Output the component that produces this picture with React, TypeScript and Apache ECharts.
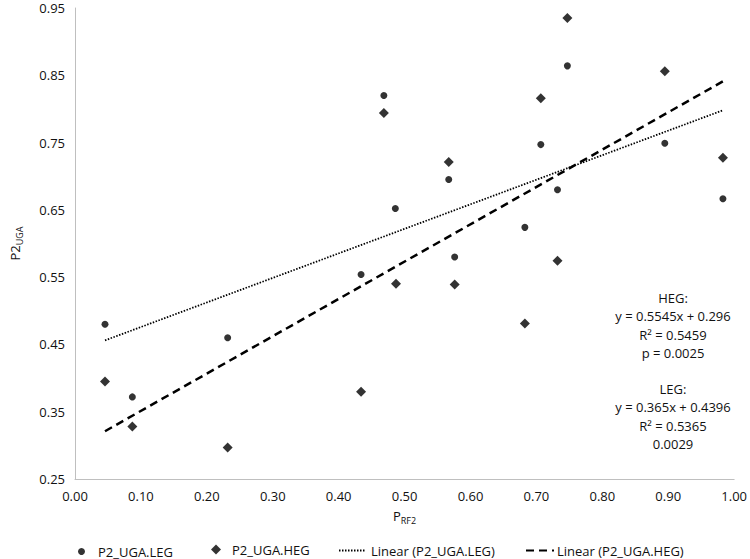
import React, { useEffect, useRef } from "react";
import * as echarts from "echarts";

const legX = [0.0455, 0.087, 0.2316, 0.434, 0.4686, 0.486, 0.567, 0.576, 0.6825, 0.7067, 0.732, 0.747, 0.8948, 0.983];
const legY = [0.480, 0.372, 0.460, 0.554, 0.820, 0.652, 0.695, 0.580, 0.624, 0.747, 0.680, 0.864, 0.749, 0.6665];
const hegX = [0.0455, 0.087, 0.2316, 0.434, 0.4686, 0.487, 0.567, 0.576, 0.6825, 0.7067, 0.732, 0.747, 0.8948, 0.983];
const hegY = [0.395, 0.328, 0.297, 0.3795, 0.794, 0.540, 0.721, 0.539, 0.481, 0.816, 0.5745, 0.935, 0.856, 0.7275];

const trendX = [0.0455, 0.983];
const legTrendY = [0.456, 0.798];
const hegTrendY = [0.321, 0.841];

const seriesNames = ["P2_UGA.LEG", "P2_UGA.HEG", "Linear (P2_UGA.LEG)", "Linear (P2_UGA.HEG)"];
const annotationLines = [
  "HEG:",
  "y = 0.5545x + 0.296",
  "R² = 0.5459",
  "p = 0.0025",
  "",
  "LEG:",
  "y = 0.365x + 0.4396",
  "R² = 0.5365",
  "0.0029",
];

const FONT = "'Open Sans', 'Noto Sans', sans-serif";
const TXT = "#111111";

export default function App() {
  const ref = useRef<HTMLDivElement>(null);
  useEffect(() => {
    if (!ref.current) return;
    const chart = echarts.init(ref.current, null, { renderer: "svg" });
    const zip = (xs: number[], ys: number[]) => xs.map((x, i) => [x, ys[i]]);
    const legendBase = {
      orient: "horizontal",
      top: 544,
      padding: 0,
      itemHeight: 7,
      itemWidth: 7,
      textStyle: { color: TXT, fontSize: 13, fontFamily: FONT },
    };
    const hidden = { color: "rgba(0,0,0,0)", borderColor: "rgba(0,0,0,0)", borderWidth: 0 };
    chart.setOption({
      animation: false,
      backgroundColor: "#ffffff",
      textStyle: { fontFamily: FONT },
      grid: { left: 62, right: 13, top: 8, bottom: 80 },
      xAxis: {
        type: "value",
        min: 0,
        max: 1,
        interval: 0.1,
        name: "{a|P}{b|RF2}",
        nameLocation: "middle",
        nameGap: 30,
        nameTextStyle: {
          rich: {
            a: { fontSize: 13, color: TXT, fontFamily: FONT, verticalAlign: "bottom" },
            b: { fontSize: 9, color: TXT, fontFamily: FONT, verticalAlign: "bottom", padding: [0, 0, -3, 0] },
          },
        },
        axisLine: { show: true, lineStyle: { color: "#bfbfbf", width: 1 } },
        axisTick: { show: false },
        splitLine: { show: false },
        axisLabel: {
          color: TXT,
          fontSize: 13,
          fontFamily: FONT,
          margin: 10,
          formatter: (v: number) => v.toFixed(2),
        },
      },
      yAxis: {
        type: "value",
        min: 0.25,
        max: 0.95,
        interval: 0.1,
        name: "{a|P2}{b|UGA}",
        nameLocation: "middle",
        nameRotate: 90,
        nameGap: 54,
        nameTextStyle: {
          rich: {
            a: { fontSize: 13, color: TXT, fontFamily: FONT, verticalAlign: "bottom" },
            b: { fontSize: 9, color: TXT, fontFamily: FONT, verticalAlign: "bottom", padding: [0, 0, -3, 0] },
          },
        },
        axisLine: { show: true, lineStyle: { color: "#bfbfbf", width: 1 } },
        axisTick: { show: false },
        splitLine: { show: false },
        axisLabel: {
          color: TXT,
          fontSize: 13,
          fontFamily: FONT,
          margin: 10,
          formatter: (v: number) => v.toFixed(2),
        },
      },
      legend: [
        { ...legendBase, left: 78, top: 545, data: [{ name: seriesNames[0], icon: "circle" }], textStyle: { ...legendBase.textStyle, padding: [0, 0, 0, 8] } },
        { ...legendBase, left: 211, itemWidth: 10, itemHeight: 10, top: 543, data: [{ name: seriesNames[1], icon: "diamond" }], textStyle: { ...legendBase.textStyle, padding: [0, 0, 0, 6] } },
        { ...legendBase, left: 338, itemWidth: 27, itemHeight: 8, data: [{ name: seriesNames[2], itemStyle: hidden }] },
        { ...legendBase, left: 525, itemWidth: 28, itemHeight: 8, data: [{ name: seriesNames[3], itemStyle: hidden }], textStyle: { ...legendBase.textStyle, padding: [0, 0, 0, -2] } },
      ],
      series: [
        {
          name: seriesNames[0],
          type: "scatter",
          symbol: "circle",
          symbolSize: 7,
          itemStyle: { color: "#000000" },
          data: zip(legX, legY),
        },
        {
          name: seriesNames[1],
          type: "scatter",
          symbol: "diamond",
          symbolSize: 10,
          itemStyle: { color: "#000000" },
          data: zip(hegX, hegY),
        },
        {
          name: seriesNames[2],
          type: "line",
          symbol: "none",
          lineStyle: { color: "#000000", width: 1.75, type: [1.5, 1.5] },
          itemStyle: hidden,
          data: zip(trendX, legTrendY),
        },
        {
          name: seriesNames[3],
          type: "line",
          symbol: "none",
          lineStyle: { color: "#000000", width: 2.5, type: [8, 5] },
          itemStyle: hidden,
          data: zip(trendX, hegTrendY),
        },
      ],
      graphic: [
        {
          type: "text",
          x: 673,
          y: 289,
          style: {
            text: annotationLines.join("\n"),
            fill: TXT,
            font: `13px ${FONT}`,
            align: "center",
            verticalAlign: "top",
            lineHeight: 18.2,
          },
        },
      ],
    });
    return () => chart.dispose();
  }, []);
  return <div ref={ref} style={{ width: 750, height: 559, position: "absolute", left: 0, top: 0 }} />;
}
